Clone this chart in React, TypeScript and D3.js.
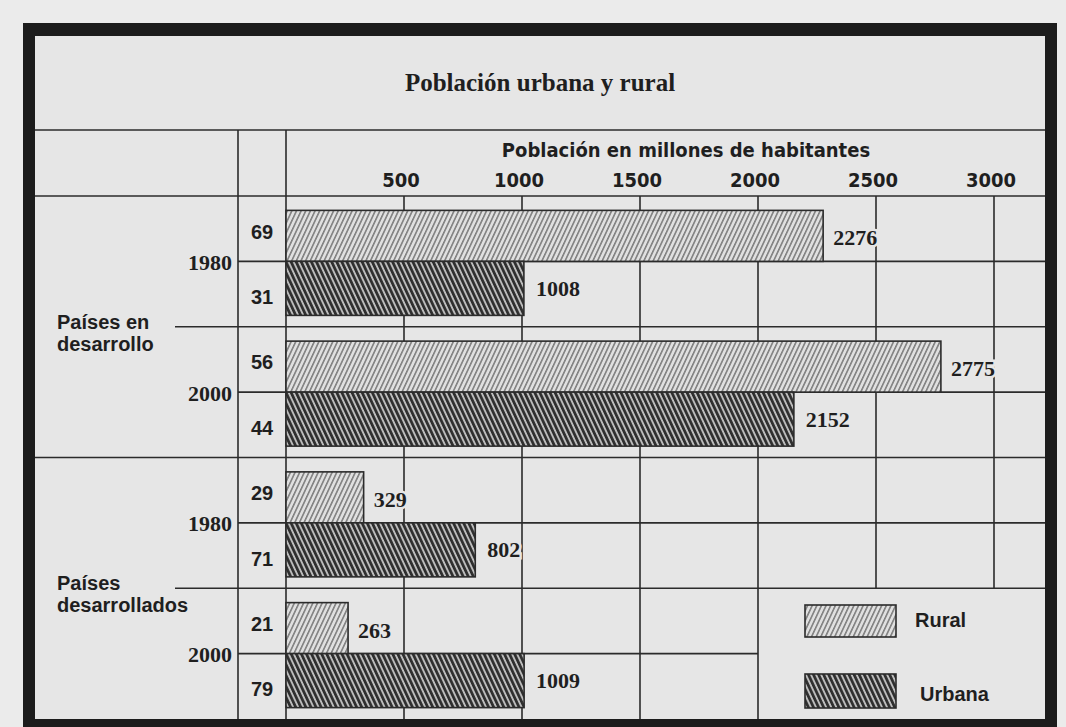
import React from 'react';
import * as d3 from 'd3';

// values (millions of inhabitants, percentages)
const groupLabels = [["Países en", "desarrollo"], ["Países", "desarrollados"]];
const years = ["1980", "2000"];
const ruralValues = [2276, 2775, 329, 263];
const urbanValues = [1008, 2152, 802, 1009];
const ruralPct = [69, 56, 29, 21];
const urbanPct = [31, 44, 71, 79];
const tickValues = [500, 1000, 1500, 2000, 2500, 3000];
const legendLabels = ["Rural", "Urbana"];

const W = 1066;
const H = 727;
const INK = '#1f1f1f';
const LINE = '#2b2b2b';
const PAPER = '#e6e6e6';
const SERIF = "'Liberation Serif', 'Times New Roman', serif";
const SANS = "'Liberation Sans', Arial, sans-serif";
const NARROW = "'Liberation Sans Narrow', 'DejaVu Sans Condensed', sans-serif";

const App: React.FC = () => {
  // frame
  const left = 35, right = 1045, top = 36, bottom = 719;
  const headTop = 130, bodyTop = 196;
  const yearCol = 238, barBase = 286;

  const x = d3.scaleLinear().domain([0, 3000]).range([barBase, 994]);

  // 4 blocks (group x year), each split in 2 slots
  const blocks = d3.range(groupLabels.length * years.length);
  const block = d3.scaleBand<number>().domain(blocks).range([bodyTop, bottom]);
  const slot = d3.scaleBand<number>().domain(d3.range(blocks.length * 2)).range([bodyTop, bottom]);
  const group = d3.scaleBand<number>().domain(d3.range(groupLabels.length)).range([bodyTop, bottom]);

  const mid = (b: number) => block(b)! + block.bandwidth() / 2;
  const ruralH = 51, urbanH = 54;

  const legendX = x(2000);
  const legendY = group(1)! + group.bandwidth() / 2;

  const lineProps = { stroke: LINE, strokeWidth: 1.6 };
  const valueText = {
    dominantBaseline: 'central' as const, fontFamily: SERIF, fontWeight: 'bold', fontSize: 22,
    fill: INK, stroke: PAPER, strokeWidth: 5, paintOrder: 'stroke' as const,
  };

  return (
    <svg width={W} height={H} style={{ position: 'absolute', left: 0, top: 0, background: '#ebebeb' }}>
      <defs>
        <pattern id="rural" width={4.2} height={10} patternUnits="userSpaceOnUse" patternTransform="rotate(25)">
          <rect width={4.2} height={10} fill="#e0e0e0" />
          <rect x={0} width={1.6} height={10} fill="#808080" />
        </pattern>
        <pattern id="urban" width={4.6} height={10} patternUnits="userSpaceOnUse" patternTransform="rotate(-25)">
          <rect width={4.6} height={10} fill="#bdbdbd" />
          <rect x={0} width={2.7} height={10} fill="#2e2e2e" />
        </pattern>
      </defs>

      <rect x={left} y={top} width={right - left} height={bottom - top} fill={PAPER} />

      {/* title */}
      <text x={540} y={82} textAnchor="middle" dominantBaseline="central"
        fontFamily={SERIF} fontWeight="bold" fontSize={25} fill={INK}>
        Población urbana y rural
      </text>

      {/* axis header */}
      <text x={686} y={150} textAnchor="middle" dominantBaseline="central"
        fontFamily={NARROW} fontWeight="bold" fontSize={20} fill={INK}>
        Población en millones de habitantes
      </text>
      {tickValues.map(t => (
        <text key={t} x={x(t) - 3} y={180} textAnchor="middle" dominantBaseline="central"
          fontFamily={NARROW} fontWeight="bold" fontSize={20} fill={INK}>{t}</text>
      ))}

      {/* vertical grid */}
      {tickValues.map(t => (
        <line key={'g' + t} x1={x(t)} x2={x(t)} y1={bodyTop}
          y2={x(t) > legendX ? legendY : bottom} {...lineProps} />
      ))}
      <line x1={yearCol} x2={yearCol} y1={headTop} y2={bottom} {...lineProps} />
      <line x1={barBase} x2={barBase} y1={headTop} y2={bottom} {...lineProps} />

      {/* horizontal rules */}
      <line x1={left} x2={right} y1={headTop} y2={headTop} {...lineProps} />
      <line x1={left} x2={right} y1={bodyTop} y2={bodyTop} {...lineProps} />
      {d3.range(1, groupLabels.length).map(g => (
        <line key={'gb' + g} x1={left} x2={right} y1={group(g)!} y2={group(g)!} {...lineProps} />
      ))}
      {groupLabels.map((_, g) => {
        const y = group(g)! + group.bandwidth() / 2;
        return <line key={'gm' + g} x1={175} x2={right} y1={y} y2={y} {...lineProps} />;
      })}
      {blocks.map(b => {
        const y = mid(b);
        const x2 = y > legendY ? legendX : right;
        return <line key={'bm' + b} x1={yearCol} x2={x2} y1={y} y2={y} {...lineProps} />;
      })}

      {/* bars */}
      {blocks.map(b => {
        const c = mid(b);
        return (
          <g key={'b' + b}>
            <rect x={x(0)} y={c - ruralH} width={x(ruralValues[b]) - x(0)} height={ruralH}
              fill="url(#rural)" stroke={LINE} strokeWidth={1.6} />
            <rect x={x(0)} y={c} width={x(urbanValues[b]) - x(0)} height={urbanH}
              fill="url(#urban)" stroke={LINE} strokeWidth={1.6} />
            <text x={x(ruralValues[b]) + 10} y={c - ruralH / 2 + 2} {...valueText}>{ruralValues[b]}</text>
            <text x={x(urbanValues[b]) + 12} y={c + urbanH / 2} {...valueText}>{urbanValues[b]}</text>
            <text x={232} y={c + 1} textAnchor="end" dominantBaseline="central"
              fontFamily={SERIF} fontWeight="bold" fontSize={22} fill={INK}>{years[b % years.length]}</text>
          </g>
        );
      })}

      {/* percentages */}
      {blocks.map(b => (
        <g key={'p' + b}>
          <text x={262} y={slot(b * 2)! + slot.bandwidth() / 2 + 3} textAnchor="middle" dominantBaseline="central"
            fontFamily={SANS} fontWeight="bold" fontSize={20} fill={INK}>{ruralPct[b]}</text>
          <text x={262} y={slot(b * 2 + 1)! + slot.bandwidth() / 2 + 3} textAnchor="middle" dominantBaseline="central"
            fontFamily={SANS} fontWeight="bold" fontSize={20} fill={INK}>{urbanPct[b]}</text>
        </g>
      ))}

      {/* group labels */}
      {groupLabels.map((lines, g) => {
        const c = group(g)! + group.bandwidth() / 2;
        return lines.map((s, i) => (
          <text key={g + '-' + i} x={57} y={c - 5 + i * 22} dominantBaseline="central"
            fontFamily={SANS} fontWeight="bold" fontSize={20} fill={INK}>{s}</text>
        ));
      })}

      {/* legend */}
      {legendLabels.map((s, i) => (
        <g key={s}>
          <rect x={805} y={i === 0 ? 605 : 674} width={91} height={i === 0 ? 32 : 34}
            fill={i === 0 ? 'url(#rural)' : 'url(#urban)'} stroke={LINE} strokeWidth={1.6} />
          <text x={i === 0 ? 915 : 920} y={i === 0 ? 620 : 694} dominantBaseline="central"
            fontFamily={SANS} fontWeight="bold" fontSize={20} fill={INK}>{s}</text>
        </g>
      ))}

      {/* thick frame */}
      <rect x={23} y={23} width={1034} height={top - 23} fill="#1c1c1c" />
      <rect x={23} y={23} width={left - 23} height={H - 23} fill="#1c1c1c" />
      <rect x={right} y={23} width={12} height={H - 23} fill="#1c1c1c" />
      <rect x={23} y={bottom} width={1034} height={H - bottom} fill="#1c1c1c" />
    </svg>
  );
};

export default App;
